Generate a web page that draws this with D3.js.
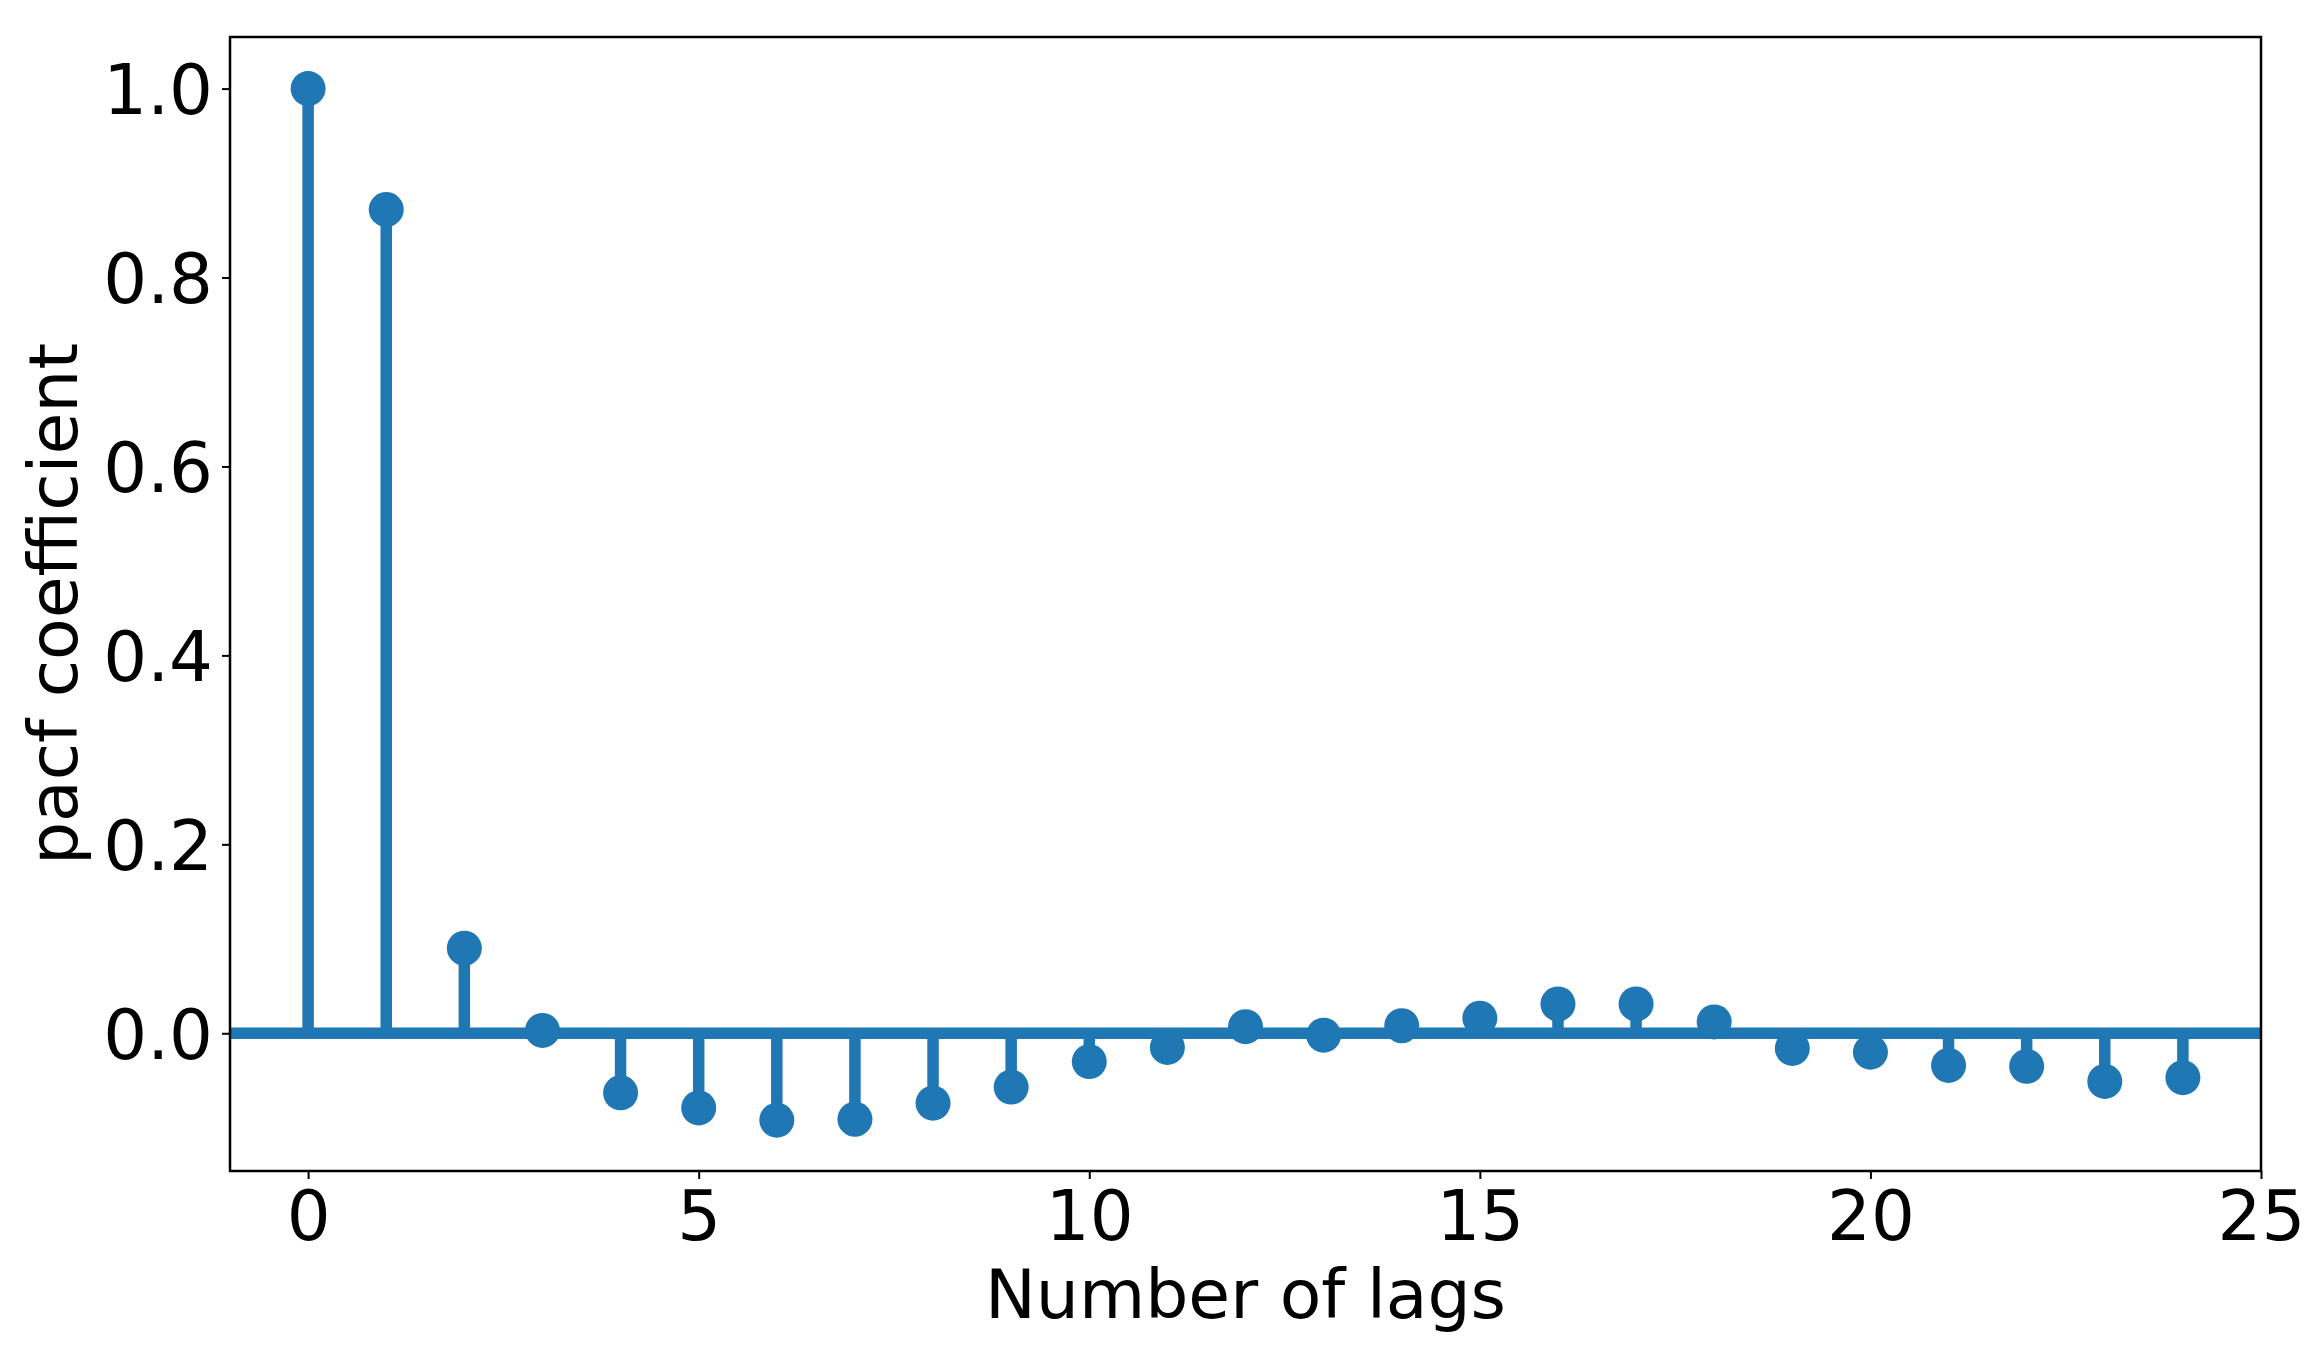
<!DOCTYPE html>
<html>
<head>
<meta charset="utf-8">
<script src="https://cdn.jsdelivr.net/npm/d3@7"></script>
<style>
  html, body { margin: 0; padding: 0; background: #ffffff; }
  svg { display: block; }
  text { font-family: "DejaVu Sans", sans-serif; fill: #000; }
</style>
</head>
<body>
<svg id="chart" width="2319" height="1352"></svg>
<script>
// ---- data ----
const lags = [0,1,2,3,4,5,6,7,8,9,10,11,12,13,14,15,16,17,18,19,20,21,22,23,24];
const pacfValues = [1.0, 0.872, 0.090, 0.003, -0.063, -0.079, -0.092, -0.091, -0.074, -0.057, -0.030, -0.015,
                    0.007, -0.002, 0.008, 0.016, 0.031, 0.031, 0.012, -0.016, -0.020, -0.034, -0.035, -0.051, -0.047];
const xTicks = [0, 5, 10, 15, 20, 25];
const yTicks = [0.0, 0.2, 0.4, 0.6, 0.8, 1.0];
const xLabel = "Number of lags";
const yLabel = "pacf coefficient";

// ---- layout ----
const plot = { left: 230, right: 2261, top: 37, bottom: 1171 };
const color = "#1f77b4";
const tickFont = 69;
const labelFont = 68;

const svg = d3.select("#chart");

const x = d3.scaleLinear().domain([-1, 25]).range([plot.left, plot.right]);
const y = d3.scaleLinear().domain([-0.1458, 1.0546]).range([plot.bottom, plot.top]);

const data = lags.map((l, i) => ({ lag: l, v: pacfValues[i] }));

const g = svg.append("g");

// stems
g.selectAll("line.stem").data(data).enter().append("line")
  .attr("class", "stem")
  .attr("x1", d => x(d.lag)).attr("x2", d => x(d.lag))
  .attr("y1", y(0)).attr("y2", d => y(d.v))
  .attr("stroke", color).attr("stroke-width", 11.5);

// baseline
g.append("line")
  .attr("x1", plot.left).attr("x2", plot.right)
  .attr("y1", y(0)).attr("y2", y(0))
  .attr("stroke", color).attr("stroke-width", 11.5);

// markers
g.selectAll("circle.mk").data(data).enter().append("circle")
  .attr("class", "mk")
  .attr("cx", d => x(d.lag)).attr("cy", d => y(d.v))
  .attr("r", 17.5).attr("fill", color);

// axes
const xAxis = d3.axisBottom(x).tickValues(xTicks).tickFormat(d3.format("d")).tickSize(8).tickPadding(10);
const yAxis = d3.axisLeft(y).tickValues(yTicks).tickFormat(d3.format(".1f")).tickSize(8).tickPadding(10);

const gx = svg.append("g").attr("transform", `translate(0,${plot.bottom})`).call(xAxis);
const gy = svg.append("g").attr("transform", `translate(${plot.left},0)`).call(yAxis);

[gx, gy].forEach(a => {
  a.select(".domain").remove();
  a.selectAll(".tick line").attr("stroke", "#000").attr("stroke-width", 2);
  a.selectAll(".tick text").attr("font-size", tickFont).attr("font-family", "DejaVu Sans").attr("fill", "#000");
});
gx.selectAll(".tick text").attr("dy", null).attr("y", 69).attr("dominant-baseline", "alphabetic");
gy.selectAll(".tick text").attr("dy", null).attr("x", -17).attr("y", 25).attr("dominant-baseline", "alphabetic");

// frame
svg.append("rect")
  .attr("x", plot.left).attr("y", plot.top)
  .attr("width", plot.right - plot.left).attr("height", plot.bottom - plot.top)
  .attr("fill", "none").attr("stroke", "#000").attr("stroke-width", 2.5);

// axis labels
svg.append("text")
  .attr("x", (plot.left + plot.right) / 2).attr("y", 1318)
  .attr("text-anchor", "middle").attr("font-size", labelFont)
  .text(xLabel);

svg.append("text")
  .attr("transform", `translate(77,${(plot.top + plot.bottom) / 2}) rotate(-90)`)
  .attr("text-anchor", "middle").attr("font-size", labelFont)
  .text(yLabel);
</script>
</body>
</html>
